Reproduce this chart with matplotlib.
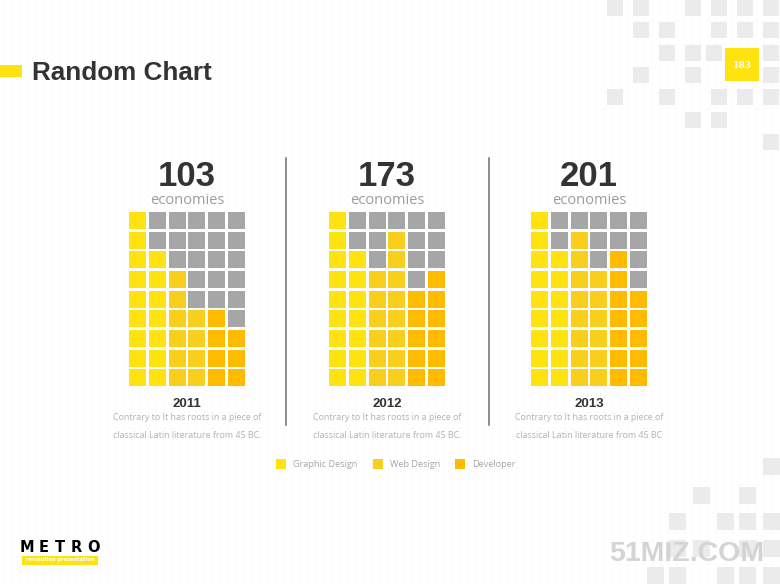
import matplotlib
matplotlib.use("Agg")
import matplotlib.pyplot as plt
from matplotlib.patches import Rectangle
import numpy as np

# ---------------- data ----------------
years = ["2011", "2012", "2013"]
totals = [103, 173, 201]
unit_label = "economies"
categories = ["Graphic Design", "Web Design", "Developer"]
column_category = [0, 0, 1, 1, 2, 2]          # category of each waffle column
filled_2011 = [9, 7, 6, 4, 4, 3]              # coloured cells per column (from bottom)
filled_2012 = [9, 7, 6, 8, 5, 6]
filled_2013 = [9, 7, 8, 6, 7, 5]
filled = [filled_2011, filled_2012, filled_2013]
n_rows = 9
desc_line1 = ["Contrary to It has roots in a piece of"] * 3
desc_line2 = ["classical Latin literature from 45 BC.",
              "classical Latin literature from 45 BC.",
              "classical Latin literature from 45 BC"]
title = "Random Chart"
page_no = "183"

# ---------------- style ----------------
cat_colors = ["#FFE310", "#F9CE1C", "#FFBB00"]
empty_color = "#A6A6A6"
dark = "#333333"
W, H = 780, 585

fig = plt.figure(figsize=(7.8, 5.85), dpi=100)
ax = fig.add_axes([0, 0, 1, 1])
ax.set_xlim(0, W)
ax.set_ylim(H, 0)
ax.axis("off")

# dotted background texture
gx, gy = np.meshgrid(np.arange(4, W, 8), np.arange(4, H, 8))
ax.scatter(gx.ravel(), gy.ravel(), s=0.3, color="#e2e2e2", linewidths=0, zorder=0)

# decorative squares top-right
deco_top = [(0, [0, 1, 3, 4, 5, 6]), (1, [1, 2, 4, 5, 6]), (2, [2, 3, 6]),
            (3, [1, 3, 6]), (4, [0, 2, 4, 5, 6]), (5, [3, 4]), (6, [6])]
for r, cols in deco_top:
    for c in cols:
        ax.add_patch(Rectangle((607 + 26 * c, 0 + 22.3 * r), 16, 16,
                               color="#ebebeb", lw=0, zorder=1))
ax.add_patch(Rectangle((706, 45), 16, 16, color="#ebebeb", lw=0, zorder=1))
# decorative squares bottom-right
deco_bot = [(763, 458), (693, 487), (739, 487), (669, 513), (717, 513), (739, 513),
            (763, 513), (669, 540), (693, 540), (739, 540), (763, 540),
            (647, 567), (669, 567), (717, 567), (739, 567), (763, 567)]
for x, y in deco_bot:
    ax.add_patch(Rectangle((x, y), 17, 17, color="#ebebeb", lw=0, zorder=1))

# page number
ax.add_patch(Rectangle((725, 48), 34, 33, color="#FFE310", lw=0, zorder=2))
ax.text(742, 65, page_no, color="white", fontsize=6.5, fontweight="bold",
        family="DejaVu Serif", ha="center", va="center", zorder=3)

# title
ax.add_patch(Rectangle((0, 65), 22, 12, color="#FFE310", lw=0, zorder=2))
ax.text(32, 73, title, color=dark, fontsize=18.8, fontweight="bold",
        family="Liberation Sans", ha="left", va="center", zorder=3)

# separators
for x in (286, 489):
    ax.plot([x, x], [158, 425], color="#6e6e6e", lw=1.1, zorder=2)

narrow = ["Liberation Sans Narrow", "Open Sans"]
centers = [187, 387, 589]
pitch = 19.7
gap = 0.14
for i, cx in enumerate(centers):
    ax.text(cx, 176, str(totals[i]), color=dark, fontsize=25, fontweight="bold",
            family="Liberation Sans", ha="center", va="center", zorder=3)
    ax.text(cx, 200, unit_label, color="#9d9d9d", fontsize=10.5,
            family="Open Sans", ha="center", va="center", zorder=3)
    ax.text(cx, 404, years[i], color=dark, fontsize=9.5, fontweight="bold",
            family="Liberation Sans", ha="center", va="center", zorder=3)
    ax.text(cx, 418, desc_line1[i], color="#b3b3b3", fontsize=6.4,
            family=narrow, ha="center", va="center", zorder=3)
    ax.text(cx, 436, desc_line2[i], color="#b3b3b3", fontsize=6.4,
            family=narrow, ha="center", va="center", zorder=3)

    gw, gh = 6 * pitch, n_rows * pitch
    left, top = cx - gw / 2, 210.5
    wax = fig.add_axes([left / W, 1 - (top + gh) / H, gw / W, gh / H])
    wax.set_xlim(0, 6)
    wax.set_ylim(n_rows, 0)
    wax.axis("off")
    for c, nfill in enumerate(filled[i]):
        for r in range(n_rows):
            col = cat_colors[column_category[c]] if r >= n_rows - nfill else empty_color
            wax.add_patch(Rectangle((c + gap / 2, r + gap / 2), 1 - gap, 1 - gap,
                                    color=col, lw=0))

# legend
leg_sq = [276, 373, 455]
for k, name in enumerate(categories):
    ax.add_patch(Rectangle((leg_sq[k], 459), 10, 10, color=cat_colors[k], lw=0, zorder=3))
    ax.text(leg_sq[k] + 17, 464.5, name, color="#a6a6a6", fontsize=6.6,
            family=narrow, ha="left", va="center", zorder=3)

# METRO logo
for j, ch in enumerate("METRO"):
    ax.text(27 + 16.5 * j, 547, ch, color="black", fontsize=10.5, fontweight="bold",
            family="DejaVu Sans", ha="center", va="center", zorder=3)
ax.add_patch(Rectangle((22, 555.5), 76, 9, color="#FFE310", lw=0, zorder=2))
ax.text(60, 560, "revolution presentation", color="white", fontsize=3.7,
        fontweight="bold", family="DejaVu Sans", ha="center", va="center", zorder=3)

# watermark
ax.text(687, 554, "51MIZ.COM", color="#d4d4d4", fontsize=20.5, fontweight="bold",
        family=["Liberation Sans Narrow", "Liberation Sans"], ha="center",
        va="center", zorder=3)

fig.savefig("out.png", dpi=100)
